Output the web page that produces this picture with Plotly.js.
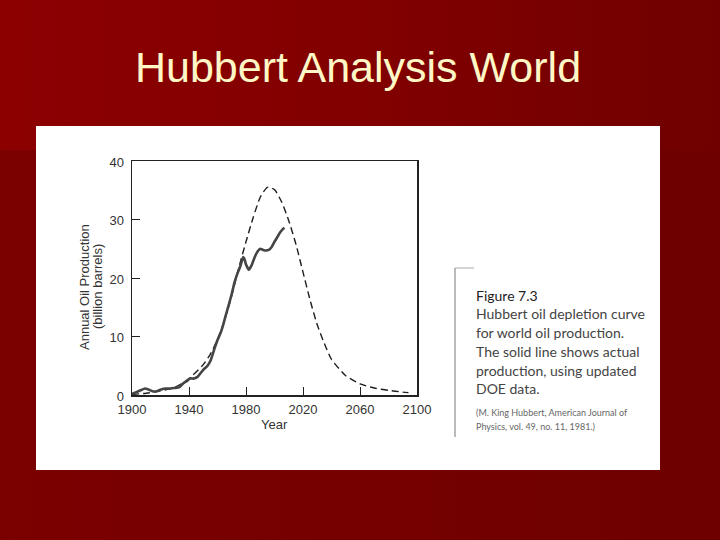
<!DOCTYPE html>
<html>
<head>
<meta charset="utf-8">
<script src="https://cdn.plot.ly/plotly-3.0.1.min.js"></script>
<style>
  html, body { margin:0; padding:0; width:720px; height:540px; overflow:hidden; }
  body { background: linear-gradient(to right, #7b0000 0%, #740000 60%, #6e0000 100%); position:relative; }
  #band { position:absolute; left:0; top:0; width:720px; height:150px;
          background: linear-gradient(to right, #8c0000 0%, #820000 50%, #700000 100%); }
  #panel { position:absolute; left:36px; top:126px; width:624px; height:344px; background:#ffffff; }
  #chart { position:absolute; left:0; top:0; width:720px; height:540px; }
</style>
</head>
<body>
<div id="band"></div>
<div id="panel"></div>
<div id="chart"></div>
<script>
// Hubbert model curve (dashed)
const hubbertYears = [1900, 1910, 1920, 1930, 1940, 1950, 1955, 1960, 1965, 1970, 1975, 1980, 1985, 1990, 1995, 2000, 2005, 2010, 2015, 2020, 2025, 2030, 2035, 2040, 2050, 2060, 2070, 2080, 2090, 2094];
const hubbertValues = [0.1, 0.3, 0.7, 1.3, 2.8, 5.2, 7.0, 9.5, 12.8, 17.0, 21.8, 26.2, 30.3, 33.8, 35.5, 35.1, 33.0, 29.8, 25.8, 21.0, 16.2, 12.0, 8.8, 6.1, 3.3, 1.9, 1.2, 0.8, 0.5, 0.4];

// Actual production (solid)
const actualYears = [1900,1903,1906,1909,1912,1915,1918,1921,1924,1927,1930,1933,1936,1938,1941,1943,1946,1948,1950,1953,1955,1958,1960,1962,1964,1966,1968,1970,1972,1974,1976,1978,1979,1980,1982,1984,1986,1988,1990,1992,1994,1996,1998,2000,2002,2004,2006,2007];
const actualValues = [0.2,0.5,0.8,1.1,0.9,0.6,0.7,1.0,1.1,1.1,1.2,1.3,2.0,2.3,2.85,2.8,3.1,3.7,4.3,5.0,5.8,8.0,9.4,10.5,12.0,13.8,15.5,17.3,19.3,20.8,22.0,23.6,23.2,22.3,21.4,22.2,23.5,24.5,25.0,24.8,24.7,24.8,25.3,26.2,27.0,27.8,28.4,28.6];

const xTicks = [1900, 1940, 1980, 2020, 2060, 2100];
const yTicks = [0, 10, 20, 30, 40];

const titleText = 'Hubbert Analysis World';
const xTitle = 'Year';
const yTitle1 = 'Annual Oil Production';
const yTitle2 = '(billion barrels)';
const captionHead = 'Figure 7.3';
const captionLines = ['Hubbert oil depletion curve', 'for world oil production.', 'The solid line shows actual', 'production, using updated', 'DOE data.'];
const citeLines = ['(M. King Hubbert, American Journal of', 'Physics, vol. 49, no. 11, 1981.)'];

// plot-area geometry (pixels) for placing text outside the axes
const L = 132, R = 417, T = 161, B = 395;
const px = x => (x - L) / (R - L);
const py = y => (B - y) / (B - T);

const traces = [
  { x: hubbertYears, y: hubbertValues, type: 'scatter', mode: 'lines', name: 'Hubbert curve',
    line: { color: '#1e1e1e', width: 1.4, dash: '7px,4px', shape: 'spline', smoothing: 0.6 } },
  { x: actualYears, y: actualValues, type: 'scatter', mode: 'lines', name: 'Actual production',
    line: { color: '#454545', width: 2.6, shape: 'spline', smoothing: 0.4 } }
];

const axisFont = { family: 'Liberation Sans, Arial, sans-serif', size: 13, color: '#333' };
const capFont = { family: 'Lato, sans-serif', size: 14, color: '#444' };

const annotations = [
  { text: xTitle, xref: 'paper', yref: 'paper', x: 0.5, y: py(424), xanchor: 'center', yanchor: 'middle', showarrow: false, font: axisFont },
  { text: yTitle1, xref: 'paper', yref: 'paper', x: px(84), y: py(287), xanchor: 'center', yanchor: 'middle', textangle: -90, showarrow: false, font: axisFont },
  { text: yTitle2, xref: 'paper', yref: 'paper', x: px(97), y: py(287), xanchor: 'center', yanchor: 'middle', textangle: -90, showarrow: false, font: axisFont },
  { text: captionHead, xref: 'paper', yref: 'paper', x: px(474), y: py(295), xanchor: 'left', yanchor: 'middle', showarrow: false,
    font: { family: 'Lato, sans-serif', size: 14, color: '#222' } }
];
const capY = [313.5, 332.5, 351, 370, 388.5];
captionLines.forEach((t, i) => annotations.push({ text: t, xref: 'paper', yref: 'paper', x: px(474), y: py(capY[i]), xanchor: 'left', yanchor: 'middle', showarrow: false, font: capFont }));
const citeY = [412, 426];
citeLines.forEach((t, i) => annotations.push({ text: t, xref: 'paper', yref: 'paper', x: px(474), y: py(citeY[i]), xanchor: 'left', yanchor: 'middle', showarrow: false,
  font: { family: 'Lato, sans-serif', size: 9, color: '#666' } }));

const layout = {
  width: 720, height: 540,
  paper_bgcolor: 'rgba(0,0,0,0)', plot_bgcolor: 'rgba(0,0,0,0)',
  margin: { l: L, r: 720 - R, t: T, b: 540 - B, pad: 0 },
  showlegend: false,
  title: { text: titleText, x: 358 / 720, xanchor: 'center', xref: 'container', y: 1 - 67 / 540, yanchor: 'middle', yref: 'container',
           font: { family: 'Liberation Sans, Arial, sans-serif', size: 43, color: '#fff7c6' } },
  xaxis: { range: [1900, 2100], tickvals: xTicks, ticks: 'inside', ticklen: 8, tickcolor: '#222', tickwidth: 1,
           showline: true, linecolor: '#222', linewidth: 1.5, mirror: true, showgrid: false, zeroline: false,
           tickfont: axisFont, ticklabelstandoff: 2, fixedrange: true },
  yaxis: { range: [0, 40], tickvals: yTicks, ticks: 'inside', ticklen: 8, tickcolor: '#222', tickwidth: 1,
           showline: true, linecolor: '#222', linewidth: 1.5, mirror: true, showgrid: false, zeroline: false,
           tickfont: axisFont, ticklabelstandoff: 4, ticklabelshift: 1, fixedrange: true },
  annotations: annotations,
  shapes: [
    { type: 'line', xref: 'paper', yref: 'paper', x0: px(455), x1: px(455), y0: py(268), y1: py(437), line: { color: '#777', width: 1 } },
    { type: 'line', xref: 'paper', yref: 'paper', x0: px(455), x1: px(474), y0: py(268), y1: py(268), line: { color: '#aaa', width: 1 } }
  ]
};

Plotly.newPlot('chart', traces, layout, { staticPlot: true, displayModeBar: false });
</script>
</body>
</html>
